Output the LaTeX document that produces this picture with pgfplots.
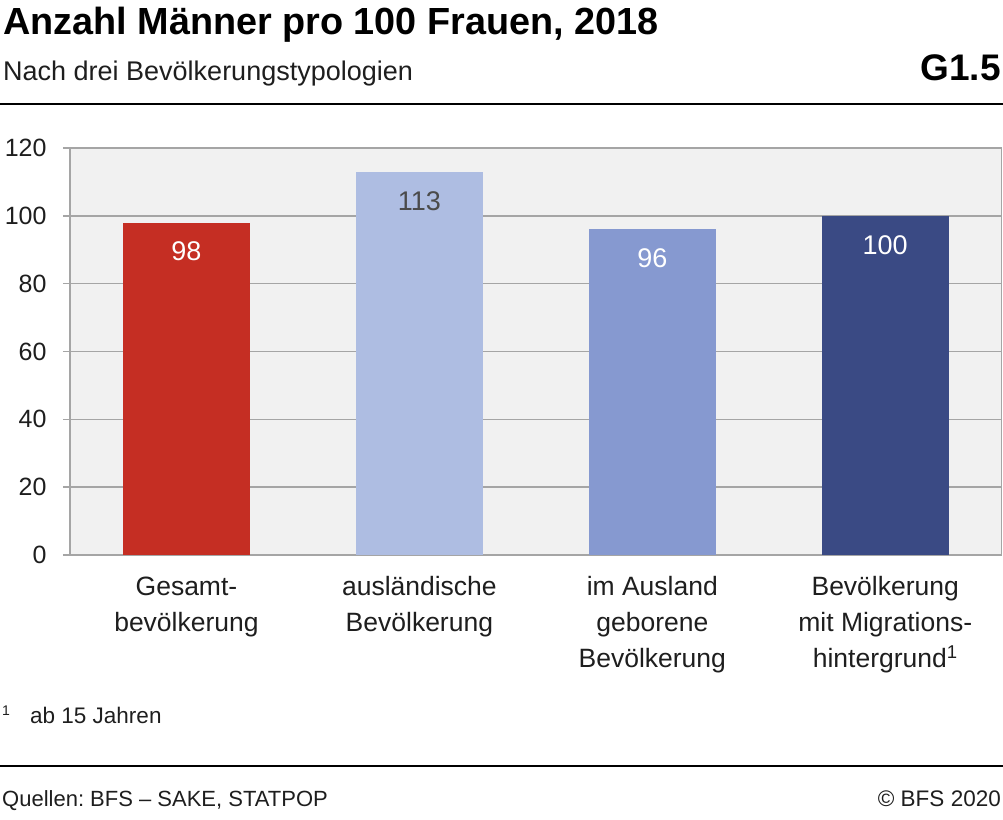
\documentclass[border=0pt]{standalone}
\usepackage{fontspec}
\setmainfont{Liberation Sans}
\usepackage{pgfplots}
\pgfplotsset{compat=1.18}
\definecolor{cred}{RGB}{197,46,35}
\definecolor{clight}{RGB}{174,189,226}
\definecolor{cmid}{RGB}{134,153,208}
\definecolor{cdark}{RGB}{58,74,132}
\definecolor{bggray}{RGB}{241,241,241}
\definecolor{gridgray}{RGB}{165,165,165}
\definecolor{txt}{RGB}{30,30,30}
\frenchspacing
\begin{document}
\begin{tikzpicture}[x=1pt,y=1pt]
\path[use as bounding box] (0,0) rectangle (1003,819);
% header
\node[anchor=base west, inner sep=0, font=\fontsize{37.8}{40}\selectfont\bfseries] at (3,784) {Anzahl Männer pro 100 Frauen, 2018};
\node[anchor=base west, inner sep=0, font=\fontsize{27}{30}\selectfont, text=txt] at (3,738) {Nach drei Bevölkerungstypologien};
\node[anchor=base east, inner sep=0, font=\fontsize{37}{40}\selectfont\bfseries] at (1001,738) {G1.5};
\draw[line width=2pt] (0,715) -- (1003,715);
% footer
\node[anchor=base west, inner sep=0, font=\fontsize{14}{16}\selectfont, text=txt] at (2,104) {1};
\node[anchor=base west, inner sep=0, font=\fontsize{22.5}{26}\selectfont, text=txt] at (30,96) {ab 15 Jahren};
\draw[line width=2pt] (0,53) -- (1003,53);
\node[anchor=base west, inner sep=0, font=\fontsize{22}{26}\selectfont, text=txt] at (2,13) {Quellen: BFS – SAKE, STATPOP};
\node[anchor=base east, inner sep=0, font=\fontsize{22.5}{26}\selectfont, text=txt] at (1001,13) {© BFS 2020};
\begin{axis}[
  at={(70pt,264pt)}, anchor=south west,
  scale only axis, width=931.7pt, height=407pt,
  xmin=-0.5, xmax=3.5, ymin=0, ymax=120,
  enlargelimits=false, clip=false,
  axis background/.style={fill=bggray},
  axis line style={draw=gridgray, line width=1.5pt},
  ymajorgrids, grid style={draw=gridgray, line width=1.5pt},
  ytick={0,20,...,120}, ytick pos=left,
  tick align=outside, major tick length=7pt,
  ytick style={draw=gridgray, line width=1.5pt},
  xtick={0,1,2,3}, xtick style={draw=none},
  xticklabels={{Gesamt-\\bevölkerung},{ausländische\\Bevölkerung},{im Ausland\\geborene\\Bevölkerung},{Bevölkerung\\mit Migrations-\\hintergrund\textsuperscript{1}}},
  xticklabel style={align=center, font=\fontsize{26.5}{36}\selectfont, text=txt, anchor=north, yshift=-11pt},
  yticklabel style={font=\fontsize{25}{28}\selectfont, text=txt, xshift=-13pt},
  /pgf/number format/assume math mode=true,
  ybar, bar width=127.3pt, bar shift=0pt,
  nodes near coords,
  nodes near coords style={anchor=center, yshift=-29pt, font=\fontsize{27}{30}\selectfont, text=white},
]
\addplot[fill=cred, draw=none] coordinates {(0,98)};
\addplot[fill=clight, draw=none, nodes near coords style={text=txt!80}] coordinates {(1,113)};
\addplot[fill=cmid, draw=none] coordinates {(2,96)};
\addplot[fill=cdark, draw=none] coordinates {(3,100)};
\end{axis}
\end{tikzpicture}
\end{document}
